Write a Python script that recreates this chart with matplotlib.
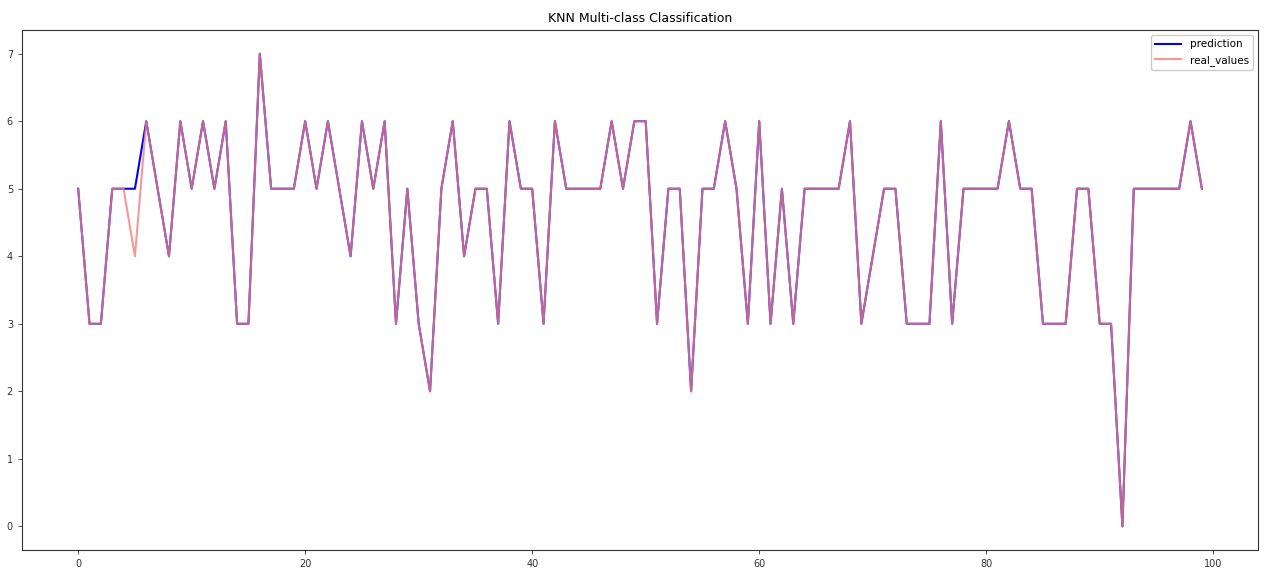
import matplotlib
matplotlib.use("Agg")
import matplotlib.pyplot as plt
import numpy as np

# class labels, index 0..99
real_values = [5, 3, 3, 5, 5, 4, 6, 5, 4, 6,
               5, 6, 5, 6, 3, 3, 7, 5, 5, 5,
               6, 5, 6, 5, 4, 6, 5, 6, 3, 5,
               3, 2, 5, 6, 4, 5, 5, 3, 6, 5,
               5, 3, 6, 5, 5, 5, 5, 6, 5, 6,
               6, 3, 5, 5, 2, 5, 5, 6, 5, 3,
               6, 3, 5, 3, 5, 5, 5, 5, 6, 3,
               4, 5, 5, 3, 3, 3, 6, 3, 5, 5,
               5, 5, 6, 5, 5, 3, 3, 3, 5, 5,
               3, 3, 0, 5, 5, 5, 5, 5, 6, 5]

# prediction only differs from the real values at index 5
prediction = list(real_values)
prediction[5] = 5

x = np.arange(len(real_values))

fig = plt.figure(figsize=(12.64, 5.73), dpi=100)
ax = fig.add_axes([0.0174, 0.0401, 0.9779, 0.9075])

ax.plot(x, prediction, color="blue", linewidth=1.5, label="prediction")
ax.plot(x, real_values, color="lightcoral", alpha=0.8, linewidth=1.5, label="real_values")

ax.set_title("KNN Multi-class Classification", fontsize=9)
ax.tick_params(labelsize=7, length=3, width=0.6, colors="#333333")
ax.set_xticks([0, 20, 40, 60, 80, 100])
for s in ax.spines.values():
    s.set_linewidth(0.8)
    s.set_color("#333333")

ax.legend(loc="upper right", fontsize=7.5, handlelength=2.5, framealpha=1)

fig.savefig("out.png", dpi=100)
